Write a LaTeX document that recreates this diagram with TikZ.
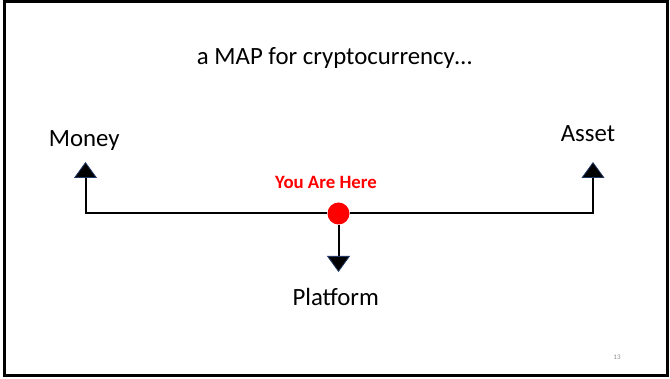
\documentclass[tikz,border=0pt]{standalone}
\usepackage{fontspec}
\setmainfont{Carlito}
\usetikzlibrary{arrows.meta}
\definecolor{tipedge}{HTML}{1F3864}
\definecolor{hotred}{HTML}{FF0000}
\definecolor{pagegray}{HTML}{8C8C8C}
\tikzset{
  label24/.style={font=\fontsize{24.8}{29}\selectfont, anchor=base, inner sep=0pt},
  conn/.style={line width=2pt, draw=black,
    -{Triangle[width=23pt,length=16pt,color=tipedge,fill=black,line width=0.8pt]}},
  reddot/.style={circle, fill=hotred, minimum size=22pt, inner sep=0pt}
}
\begin{document}
\begin{tikzpicture}[x=1pt,y=1pt]
  \useasboundingbox (0,0) rectangle (670,378);
  % slide frame
  \draw[line width=3pt] (4,2.5) rectangle (667,376);

  % labels
  \node[label24] (title) at (334.5,313) {a MAP for cryptocurrency…};
  \node[label24] (money) at (84.3,231.3) {Money};
  \node[label24] (asset) at (588,236.3) {Asset};
  \node[label24] (platform) at (335.7,72) {Platform};
  \node[font=\fontsize{18.8}{22}\selectfont\bfseries, text=hotred, anchor=base, inner sep=0pt]
    (here) at (326,189.7) {You Are Here};
  \node[font=\fontsize{7}{8}\selectfont, text=pagegray, inner sep=0pt] (pnum) at (617,21) {13};

  % map axes
  \node[reddot] (dot) at (338.5,164.5) {};
  \coordinate (ltip) at (85.5,216);
  \coordinate (rtip) at (593,216);
  \coordinate (dtip) at (338.5,106);
  \draw[conn] (dot.west) -| (ltip);
  \draw[conn] (dot.east) -| (rtip);
  \draw[conn] (dot.south) -- (dtip);
\end{tikzpicture}
\end{document}
